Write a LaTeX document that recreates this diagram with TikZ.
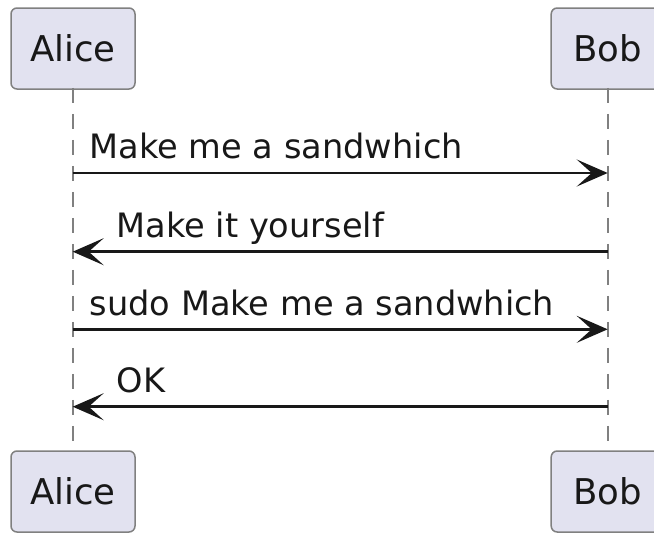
\documentclass[tikz,border=0pt]{standalone}
\usepackage{fontspec}
\setmainfont{DejaVu Sans}
\usetikzlibrary{arrows.meta}
\definecolor{partfill}{HTML}{E2E2F0}
\definecolor{ink}{HTML}{181818}
\begin{document}
\begin{tikzpicture}[x=1pt,y=-1pt,
  participant/.style={draw=ink!55, line width=1.5pt, fill=partfill, rounded corners=6pt,
    minimum height=81pt, inner sep=0pt, font=\fontsize{35.5}{40}\selectfont, text=ink},
  lifeline/.style={draw=ink!55, line width=2pt, dash pattern=on 15pt off 11pt},
  msg/.style={draw=ink, line width=2.5pt, -{Stealth[length=31pt,width=27pt,inset=15pt]}},
  lbl/.style={font=\fontsize{33.6}{38}\selectfont, text=ink, anchor=base west, inner sep=0pt}]
\useasboundingbox (0,0) rectangle (654,533);
\node[participant, minimum width=124pt] (aliceTop) at (73,48.5) {Alice};
\node[participant, minimum width=113pt] (bobTop) at (607.7,48.5) {Bob};
\node[participant, minimum width=124pt] (aliceBot) at (73,491.5) {Alice};
\node[participant, minimum width=113pt] (bobBot) at (607.7,491.5) {Bob};
\draw[lifeline] ([yshift=2pt]aliceTop.south) -- (aliceBot.north);
\draw[lifeline] ([yshift=2pt]bobTop.south) -- (bobBot.north);
\coordinate (a1) at (72.7,173);   \coordinate (b1) at (607.7,173);
\coordinate (a2) at (72.7,251.7); \coordinate (b2) at (607.7,251.7);
\coordinate (a3) at (72.7,329.3); \coordinate (b3) at (607.7,329.3);
\coordinate (a4) at (72.7,406.7); \coordinate (b4) at (607.7,406.7);
\draw[msg] (a1) -- (b1);
\draw[msg] (b2) -- (a2);
\draw[msg] (a3) -- (b3);
\draw[msg] (b4) -- (a4);
\node[lbl] (l1) at (89.5,158.5) {Make me a sandwhich};
\node[lbl] (l2) at (116.5,237) {Make it yourself};
\node[lbl] (l3) at (89.5,315) {sudo Make me a sandwhich};
\node[lbl] (l4) at (116.5,392.5) {OK};
\end{tikzpicture}
\end{document}
